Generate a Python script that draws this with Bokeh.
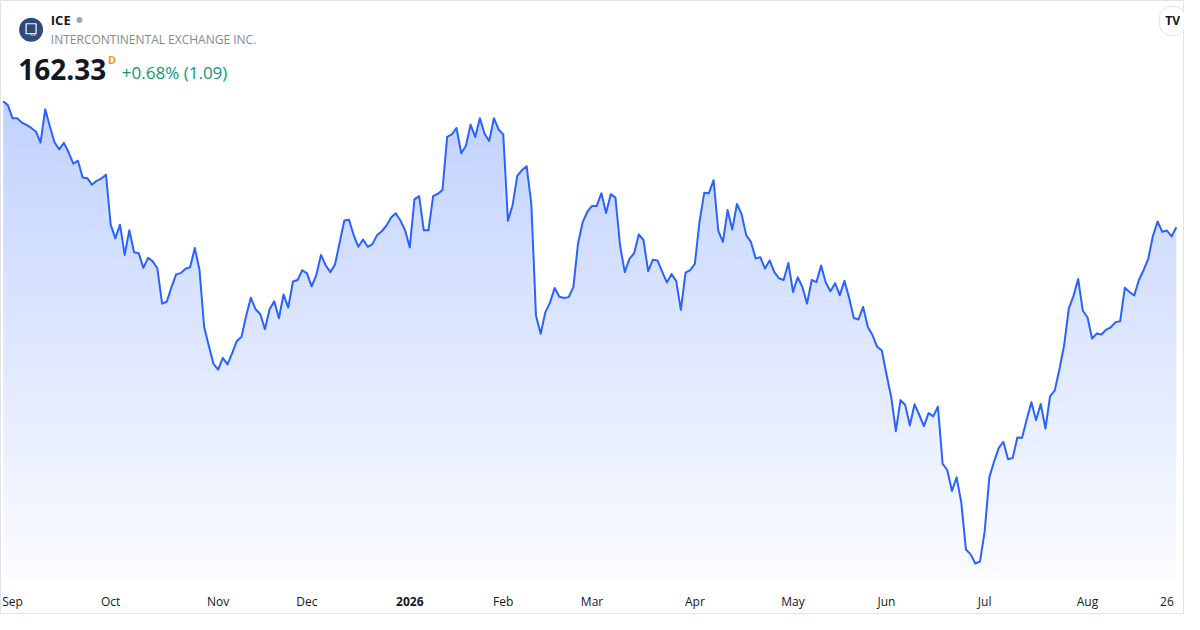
import numpy as np
import pandas as pd
from bokeh.plotting import figure
from bokeh.models import ColumnDataSource, Range1d, Label
from bokeh.core.properties import value
from bokeh.embed import file_html
from bokeh.resources import INLINE

# ---------------- data ----------------
ticker = "ICE"
company = "INTERCONTINENTAL EXCHANGE INC."
last_price = "162.33"
interval = "D"
change_text = "+0.68% (1.09)"

holidays = ["2025-09-01", "2025-11-27", "2025-12-25", "2026-01-01", "2026-01-19",
            "2026-02-16", "2026-04-03", "2026-05-25", "2026-06-19", "2026-07-03"]
dates = pd.bdate_range("2025-08-28", "2026-08-28")
dates = dates[~dates.isin(pd.to_datetime(holidays))]

close = [
    177.47, 177.00, 175.43, 175.43, 174.90, 174.62, 174.26, 173.84, 172.51, 176.49,
    174.43, 172.51, 171.69, 172.47, 171.34, 169.98, 170.33, 168.30, 168.23, 167.44,
    167.91, 168.18, 168.65, 162.65, 161.01, 162.65, 159.02, 161.98, 159.34, 159.22,
    157.46, 158.67, 158.24, 157.38, 153.17, 153.40, 155.12, 156.68, 156.83, 157.35,
    157.53, 159.84, 157.26, 150.36, 148.10, 145.95, 145.25, 146.65, 145.88, 147.24,
    148.69, 149.19, 151.73, 153.87, 152.50, 151.92, 150.09, 152.50, 153.44, 151.41,
    154.26, 152.70, 155.82, 156.01, 157.18, 156.80, 155.24, 156.60, 159.02, 157.77,
    156.95, 157.88, 160.51, 163.15, 163.23, 161.39, 159.99, 160.86, 159.99, 160.31,
    161.39, 161.86, 162.53, 163.50, 164.02, 163.15, 161.98, 159.92, 165.69, 166.07,
    161.98, 161.98, 166.07, 166.36, 166.82, 173.18, 173.49, 174.26, 171.22, 172.09,
    174.66, 173.18, 175.43, 173.56, 172.71, 175.43, 174.08, 173.49, 163.11, 164.99,
    168.50, 169.20, 169.67, 165.19, 151.73, 149.54, 152.12, 153.29, 155.04, 153.99,
    153.84, 153.95, 155.16, 160.39, 162.96, 164.20, 164.90, 164.90, 166.43, 164.05,
    166.31, 165.89, 160.11, 156.95, 158.55, 159.22, 161.48, 160.81, 157.07, 158.43,
    158.35, 157.00, 155.71, 156.71, 155.90, 152.43, 156.88, 157.18, 157.97, 163.03,
    166.47, 166.43, 167.99, 161.94, 160.58, 164.40, 162.06, 165.14, 163.90, 161.36,
    160.58, 158.59, 158.75, 157.38, 158.35, 156.95, 156.21, 156.01, 158.05, 154.57,
    156.33, 155.16, 153.17, 156.01, 155.74, 157.73, 155.71, 154.66, 155.63, 154.19,
    155.90, 153.87, 151.45, 151.26, 152.78, 150.36, 149.39, 147.99, 147.55, 144.66,
    141.97, 137.88, 141.59, 141.00, 138.54, 141.08, 139.83, 138.46, 140.03, 139.63,
    140.80, 133.95, 133.20, 130.67, 132.31, 129.30, 123.65, 123.07, 121.97, 122.20,
    125.79, 132.31, 134.18, 135.82, 136.59, 134.48, 134.65, 137.11, 137.06, 139.25,
    141.32, 139.16, 141.12, 138.16, 142.05, 142.76, 145.30, 148.14, 152.58, 154.07,
    156.13, 152.32, 151.53, 148.96, 149.58, 149.46, 150.05, 150.33, 150.95, 151.06,
    155.08, 154.57, 154.14, 156.01, 157.18, 158.55, 161.28, 163.03, 161.79, 161.94,
    161.24, 162.33,
]

tick_dates = ["2025-09-02", "2025-10-01", "2025-11-03", "2025-12-01", "2026-01-02",
              "2026-02-02", "2026-03-02", "2026-04-01", "2026-05-01", "2026-06-01",
              "2026-07-01", "2026-08-03", "2026-08-26"]
tick_labels = ["Sep", "Oct", "Nov", "Dec", "2026", "Feb", "Mar", "Apr", "May",
               "Jun", "Jul", "Aug", "26"]
tick_bold = [False, False, False, False, True, False, False, False, False,
             False, False, False, False]

# ---------------- layout ----------------
W, H = 1184, 614
REF_W, REF_H = 1200, 630
X0, X1 = -0.57, 252.76
Y0, Y1 = 115.85, 189.56
FONT = "Open Sans"


def fx(px):
    return X0 + (X1 - X0) * px / REF_W


def fy(py):
    return Y1 - (Y1 - Y0) * py / REF_H


x = np.arange(len(close))
price = np.array(close, dtype=float)

p = figure(width=W, height=H, x_range=Range1d(X0, X1), y_range=Range1d(Y0, Y1),
           x_axis_type=None, y_axis_type=None, tools="", toolbar_location=None,
           output_backend="svg", min_border=0)
p.background_fill_color = "white"
p.border_fill_color = "white"
p.outline_line_color = "#e0e3eb"
p.outline_line_width = 1

# gradient area under the line (opaque bands)
fill_bottom = fy(593)
grad_top = max(fy(100), price.max() + 0.1)
K = 72
edges = np.linspace(fill_bottom, grad_top, K + 1)
for k in range(K):
    lo, hi = edges[k], edges[k + 1]
    b = lo - 0.06 if k > 0 else lo
    y1 = np.minimum(b, price)
    y2 = np.minimum(price, hi)
    t = (0.5 * (lo + hi) - fill_bottom) / (grad_top - fill_bottom)
    a = 0.02 + 0.27 * t
    r = int(round(255 - 214 * a))
    g = int(round(255 - 157 * a))
    col = "#%02x%02x%02x" % (r, g, 255)
    p.varea(x=x, y1=y1, y2=y2, fill_color=col, fill_alpha=1.0)

p.line(x, price, line_color="#2962ff", line_width=2, line_join="round")

# x tick labels
tick_idx = [int(dates.get_loc(pd.Timestamp(d))) for d in tick_dates]
reg = ColumnDataSource(dict(
    x=[i for i, b in zip(tick_idx, tick_bold) if not b],
    y=[fy(617)] * sum(1 for b in tick_bold if not b),
    text=[t for t, b in zip(tick_labels, tick_bold) if not b]))
bld = ColumnDataSource(dict(
    x=[i for i, b in zip(tick_idx, tick_bold) if b],
    y=[fy(617)] * sum(1 for b in tick_bold if b),
    text=[t for t, b in zip(tick_labels, tick_bold) if b]))
p.text(x="x", y="y", text="text", source=reg, text_font=value(FONT),
       text_font_size="12px", text_color="#131722", text_align="center",
       text_baseline="middle")
p.text(x="x", y="y", text="text", source=bld, text_font=value(FONT),
       text_font_size="12px", text_font_style="bold", text_color="#131722",
       text_align="center", text_baseline="middle")

# header: logo
p.scatter(x=[fx(31)], y=[fy(30)], size=24, marker="circle",
          fill_color="#2f4b7c", line_color=None)
p.scatter(x=[fx(31)], y=[fy(29)], size=10, marker="square",
          fill_color=None, line_color="white", line_width=1.2)
p.text(x=[fx(33)], y=[fy(35)], text=["ICE"], text_font=value(FONT),
       text_font_size="4px", text_color="white", text_align="center",
       text_baseline="middle")

p.text(x=[fx(51)], y=[fy(20)], text=[ticker], text_font=value(FONT),
       text_font_size="13px", text_font_style="bold", text_color="#131722",
       text_align="left", text_baseline="middle")
p.scatter(x=[fx(80)], y=[fy(20)], size=6, marker="circle",
          fill_color="#a3a6af", line_color=None)
p.text(x=[fx(51)], y=[fy(40)], text=[company], text_font=value(FONT),
       text_font_size="12px", text_color="#868993", text_align="left",
       text_baseline="middle")

p.text(x=[fx(18)], y=[fy(71)], text=[last_price], text_font=value(FONT),
       text_font_size="28px", text_font_style="bold", text_color="#131722",
       text_align="left", text_baseline="middle")
p.text(x=[fx(109)], y=[fy(61)], text=[interval], text_font=value(FONT),
       text_font_size="11px", text_font_style="bold", text_color="#ff9800",
       text_align="left", text_baseline="middle")
p.text(x=[fx(123)], y=[fy(74)], text=[change_text], text_font=value(FONT),
       text_font_size="17px", text_color="#089981", text_align="left",
       text_baseline="middle")

# TradingView badge
badge = Label(x=fx(1188), y=fy(21), text="TV", text_font=FONT,
              text_font_size="12px", text_font_style="bold", text_color="#131722",
              text_align="center", text_baseline="middle",
              background_fill_color="white", border_line_color="#e0e3eb",
              border_radius=12, padding=6)
p.add_layout(badge)

open("out.html", "w").write(file_html(p, INLINE))
